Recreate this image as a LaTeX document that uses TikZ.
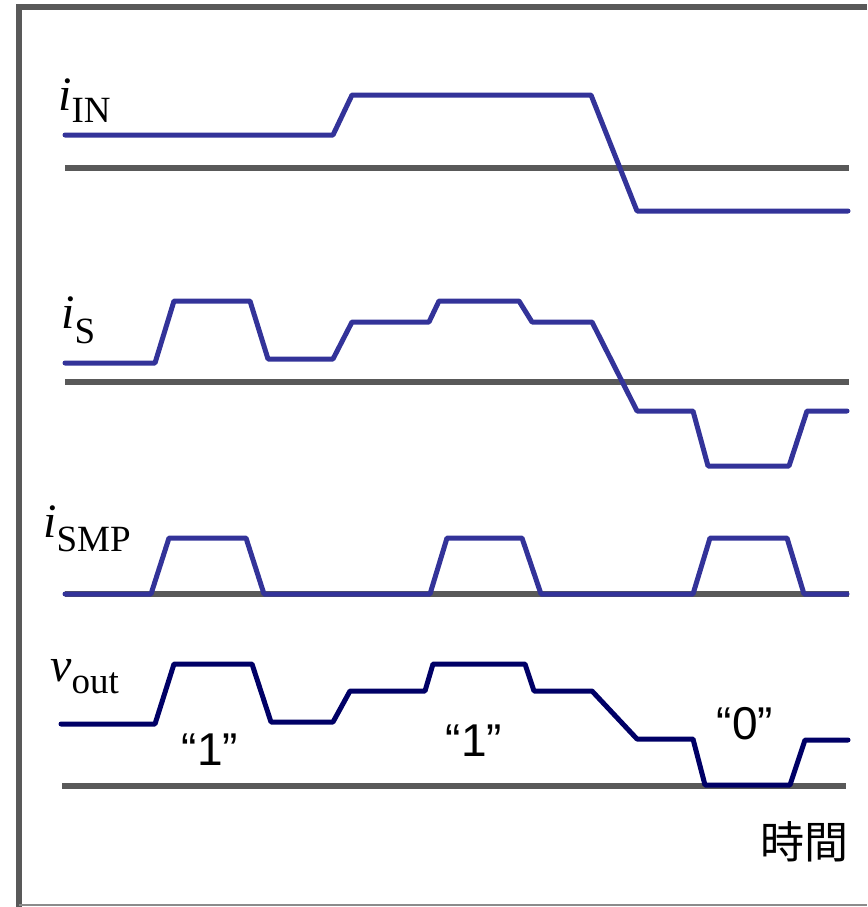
\documentclass[tikz,border=0pt]{standalone}
\usepackage{fontspec}
\setmainfont{Liberation Serif}
\newfontfamily\qfont{Liberation Sans}
\newfontfamily\cjk{Noto Sans CJK JP}
\newcommand{\siglbl}[3]{{\fontsize{48}{48}\selectfont\textit{#1}}\raisebox{-#3pt}{\fontsize{37}{37}\selectfont #2}}
\definecolor{wblue}{RGB}{51,51,153}
\definecolor{wnavy}{RGB}{0,0,102}
\definecolor{agray}{RGB}{89,89,89}
\tikzset{
  wave/.style={line width=5pt, color=wblue, line join=round, line cap=round},
  vwave/.style={line width=5pt, color=wnavy, line join=round, line cap=round},
  axis/.style={line width=6pt, color=agray},
  siglabel/.style={anchor=base west, inner sep=0pt},
  quote/.style={inner sep=0pt, font=\qfont\fontsize{46}{46}\selectfont},
}
\begin{document}
\begin{tikzpicture}[x=1pt,y=-1pt]
\useasboundingbox (0,0) rectangle (867,907);
% frame
\draw[line width=6pt, color=agray] (19,907) -- (19,7) -- (867,7);
\draw[line width=1.5pt, color=agray!70] (19,905) -- (867,905);

% axes
\coordinate (a1s) at (65,168); \coordinate (a1e) at (849,168);
\coordinate (a2s) at (65,382); \coordinate (a2e) at (849,382);
\coordinate (a3s) at (65,594); \coordinate (a3e) at (849,594);
\coordinate (a4s) at (62,786); \coordinate (a4e) at (846,786);
\draw[axis] (a1s) -- (a1e);
\draw[axis] (a2s) -- (a2e);
\draw[axis] (a3s) -- (a3e);
\draw[axis] (a4s) -- (a4e);

% i_IN
\draw[wave] (65,135) -- (333,135) -- (352,95) -- (591,95) -- (637,211) -- (848,211);
% i_S
\draw[wave] (65,363) -- (155,363) -- (174,301) -- (250,301) -- (268,359) -- (333,359)
  -- (352,322) -- (429,322) -- (439,301) -- (519,301) -- (532,322) -- (592,322)
  -- (637,411) -- (693,411) -- (708,466) -- (789,466) -- (807,411) -- (847,411);
% i_SMP
\draw[wave] (65,594) -- (151,594) -- (169,538) -- (246,538) -- (264,594)
  -- (430,594) -- (447,538) -- (522,538) -- (541,594)
  -- (693,594) -- (710,538) -- (787,538) -- (804,594) -- (847,594);
% v_out
\draw[vwave] (61,724) -- (155,724) -- (174,664) -- (252,664) -- (271,722) -- (333,722)
  -- (350,691) -- (425,691) -- (433,664) -- (525,664) -- (534,691) -- (592,691)
  -- (637,739) -- (693,739) -- (705,785) -- (790,785) -- (805,740) -- (848,740);

% labels
\node[siglabel] (lin) at (58,110) {\siglbl{i}{IN}{13}};
\node[siglabel] (ls) at (61,328) {\siglbl{i}{S}{15}};
\node[siglabel] (lsmp) at (43,537) {\siglbl{i}{SMP}{14}};
\node[siglabel] (lv) at (50,681) {\siglbl{v}{out}{12}};

\node[quote] (q1) at (210,750) {“1”};
\node[quote] (q2) at (474,741) {“1”};
\node[quote] (q0) at (745,724) {“0”};
\node[inner sep=0pt, font=\cjk\fontsize{44}{44}\selectfont] (t) at (804,842) {時間};
\end{tikzpicture}
\end{document}
